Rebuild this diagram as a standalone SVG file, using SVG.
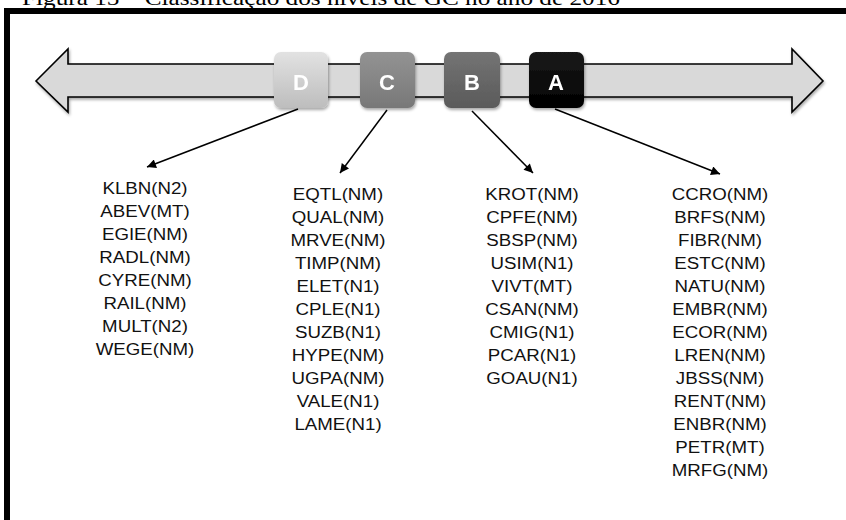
<svg xmlns="http://www.w3.org/2000/svg" width="846" height="520" viewBox="0 0 846 520">
  <style>
    .caption { font-family: "Liberation Serif", "Times New Roman", serif; font-size: 22px; fill: #000; }
    .band { fill: #d9d9d9; stroke: #000; stroke-width: 1.6; stroke-linejoin: miter; }
    .lvl-letter { font-family: "Liberation Sans", Arial, sans-serif; font-size: 22px; font-weight: bold; fill: #fff; text-anchor: middle; }
    .lvl-box { stroke: none; }
    .list { font-family: "Liberation Sans", Arial, sans-serif; font-size: 17px; fill: #111; text-anchor: middle; }
    .conn { stroke: #000; stroke-width: 1.5; fill: none; marker-end: url(#arrow); }
  </style>
  <defs>
    <marker id="arrow" viewBox="0 0 10 10" refX="10" refY="5" markerWidth="7" markerHeight="6" markerUnits="strokeWidth" orient="auto">
      <path d="M0,0 L10,5 L0,10 Z" fill="#000"/>
    </marker>
    <filter id="shadow" x="-10%" y="-20%" width="130%" height="160%">
      <feGaussianBlur in="SourceAlpha" stdDeviation="1.5"/>
      <feOffset dx="1" dy="2" result="b"/>
      <feComponentTransfer><feFuncA type="linear" slope="0.35"/></feComponentTransfer>
      <feMerge><feMergeNode/><feMergeNode in="SourceGraphic"/></feMerge>
    </filter>
    <linearGradient id="gD" x1="0" y1="0" x2="0" y2="1">
      <stop offset="0" stop-color="#e2e2e2"/><stop offset="1" stop-color="#bdbdbd"/>
    </linearGradient>
    <linearGradient id="gC" x1="0" y1="0" x2="0" y2="1">
      <stop offset="0" stop-color="#939393"/><stop offset="1" stop-color="#787878"/>
    </linearGradient>
    <linearGradient id="gB" x1="0" y1="0" x2="0" y2="1">
      <stop offset="0" stop-color="#747474"/><stop offset="1" stop-color="#5a5a5a"/>
    </linearGradient>
    <linearGradient id="gA" x1="0" y1="0" x2="0" y2="1">
      <stop offset="0" stop-color="#1a1a1a"/><stop offset="1" stop-color="#000"/>
    </linearGradient>
  </defs>

  <rect width="846" height="520" fill="#fff"/>

  <!-- caption, cut by the upper edge -->
  <text class="caption" x="22" y="5" textLength="598" lengthAdjust="spacingAndGlyphs">Figura 15 – Classificação dos níveis de GC no ano de 2016</text>

  <!-- frame -->
  <rect x="4" y="8" width="842" height="6" fill="#000"/>
  <rect x="4" y="8" width="6" height="512" fill="#000"/>

  <!-- double-headed band -->
  <g id="band" filter="url(#shadow)">
    <polygon class="band" points="36,81 68,49 68,64 792,64 792,49 823,81 792,112 792,97 68,97 68,112"/>
  </g>

  <!-- level boxes -->
  <g id="level-D" filter="url(#shadow)">
    <rect class="lvl-box" x="274" y="52" width="54" height="56" rx="7" fill="url(#gD)"/>
    <text class="lvl-letter" x="301" y="89.5">D</text>
  </g>
  <g id="level-C" filter="url(#shadow)">
    <rect class="lvl-box" x="360" y="52" width="55" height="56" rx="7" fill="url(#gC)"/>
    <text class="lvl-letter" x="387" y="89.5">C</text>
  </g>
  <g id="level-B" filter="url(#shadow)">
    <rect class="lvl-box" x="444" y="52" width="56" height="56" rx="7" fill="url(#gB)"/>
    <text class="lvl-letter" x="472" y="89.5">B</text>
  </g>
  <g id="level-A" filter="url(#shadow)">
    <rect class="lvl-box" x="529" y="52" width="55" height="56" rx="7" fill="url(#gA)"/>
    <text class="lvl-letter" x="556" y="89.5">A</text>
  </g>

  <!-- connectors -->
  <g id="connectors">
    <line class="conn" x1="298" y1="109" x2="147" y2="167"/>
    <line class="conn" x1="387" y1="110" x2="340" y2="173"/>
    <line class="conn" x1="472" y1="111" x2="533" y2="173"/>
    <line class="conn" x1="555" y1="109" x2="720" y2="174"/>
  </g>

  <!-- company lists -->
  <g id="list-D" transform="translate(145,0) scale(1.1,1)">
    <text class="list" x="0" y="194">KLBN(N2)</text>
    <text class="list" x="0" y="217">ABEV(MT)</text>
    <text class="list" x="0" y="240">EGIE(NM)</text>
    <text class="list" x="0" y="263">RADL(NM)</text>
    <text class="list" x="0" y="286">CYRE(NM)</text>
    <text class="list" x="0" y="309">RAIL(NM)</text>
    <text class="list" x="0" y="332">MULT(N2)</text>
    <text class="list" x="0" y="355">WEGE(NM)</text>
  </g>
  <g id="list-C" transform="translate(338,0) scale(1.1,1)">
    <text class="list" x="0" y="200">EQTL(NM)</text>
    <text class="list" x="0" y="223">QUAL(NM)</text>
    <text class="list" x="0" y="246">MRVE(NM)</text>
    <text class="list" x="0" y="269">TIMP(NM)</text>
    <text class="list" x="0" y="292">ELET(N1)</text>
    <text class="list" x="0" y="315">CPLE(N1)</text>
    <text class="list" x="0" y="338">SUZB(N1)</text>
    <text class="list" x="0" y="361">HYPE(NM)</text>
    <text class="list" x="0" y="384">UGPA(NM)</text>
    <text class="list" x="0" y="407">VALE(N1)</text>
    <text class="list" x="0" y="430">LAME(N1)</text>
  </g>
  <g id="list-B" transform="translate(532,0) scale(1.1,1)">
    <text class="list" x="0" y="200">KROT(NM)</text>
    <text class="list" x="0" y="223">CPFE(NM)</text>
    <text class="list" x="0" y="246">SBSP(NM)</text>
    <text class="list" x="0" y="269">USIM(N1)</text>
    <text class="list" x="0" y="292">VIVT(MT)</text>
    <text class="list" x="0" y="315">CSAN(NM)</text>
    <text class="list" x="0" y="338">CMIG(N1)</text>
    <text class="list" x="0" y="361">PCAR(N1)</text>
    <text class="list" x="0" y="384">GOAU(N1)</text>
  </g>
  <g id="list-A" transform="translate(720,0) scale(1.1,1)">
    <text class="list" x="0" y="200">CCRO(NM)</text>
    <text class="list" x="0" y="223">BRFS(NM)</text>
    <text class="list" x="0" y="246">FIBR(NM)</text>
    <text class="list" x="0" y="269">ESTC(NM)</text>
    <text class="list" x="0" y="292">NATU(NM)</text>
    <text class="list" x="0" y="315">EMBR(NM)</text>
    <text class="list" x="0" y="338">ECOR(NM)</text>
    <text class="list" x="0" y="361">LREN(NM)</text>
    <text class="list" x="0" y="384">JBSS(NM)</text>
    <text class="list" x="0" y="407">RENT(NM)</text>
    <text class="list" x="0" y="430">ENBR(NM)</text>
    <text class="list" x="0" y="453">PETR(MT)</text>
    <text class="list" x="0" y="476">MRFG(NM)</text>
  </g>
</svg>
